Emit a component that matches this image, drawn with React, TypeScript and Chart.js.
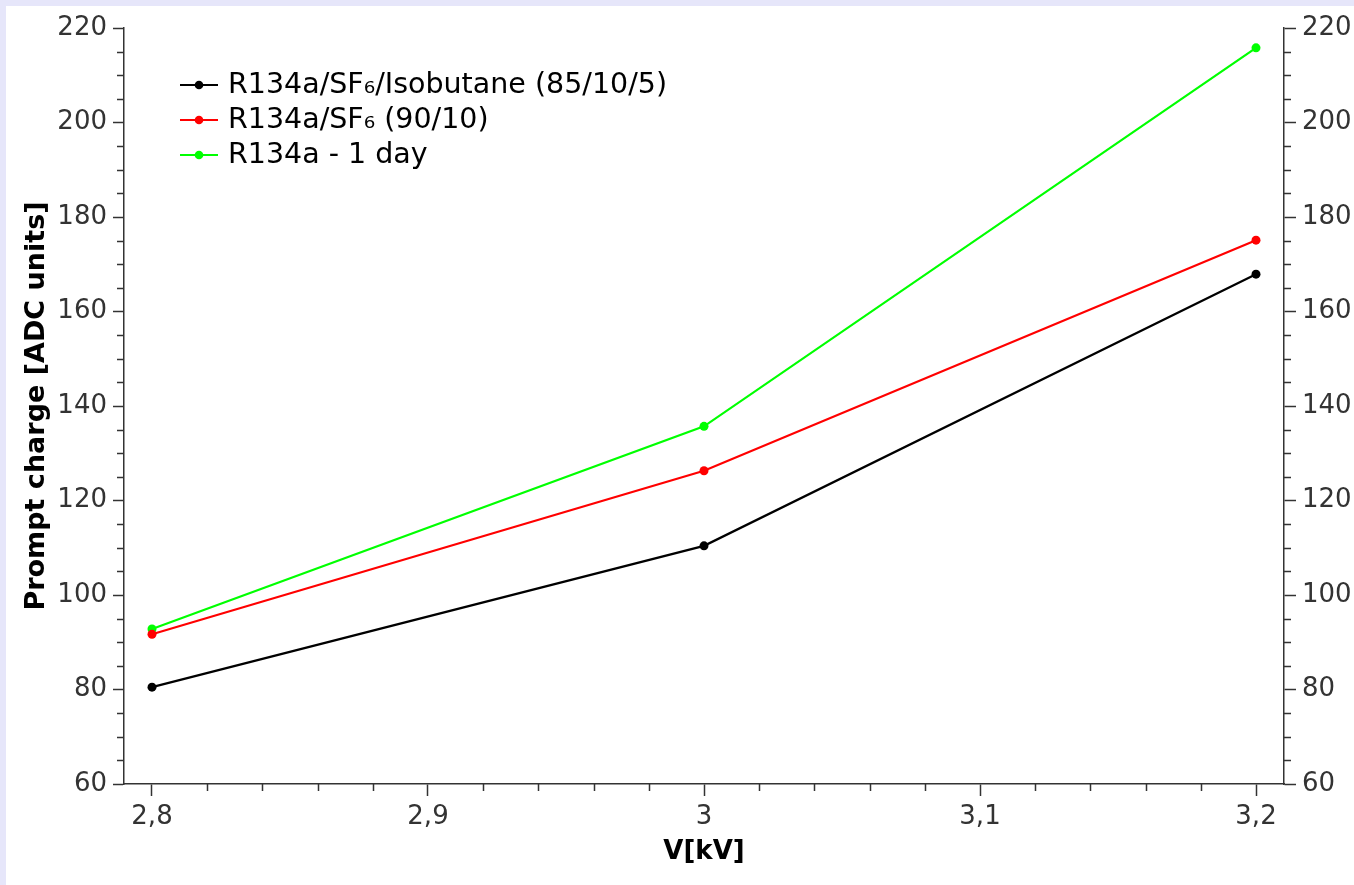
import React, { useEffect, useRef } from 'react';
import { Chart, registerables } from 'chart.js';

Chart.register(...registerables);

// ---- data ----
const voltages = [2.8, 3.0, 3.2];
const isobutaneMix = [80.5, 110.4, 167.9];
const sf6Mix = [91.7, 126.3, 175.1];
const r134aOneDay = [92.8, 135.7, 215.8];
const seriesNames = ['R134a/SF\u2086/Isobutane (85/10/5)', 'R134a/SF\u2086 (90/10)', 'R134a - 1 day'];
const seriesColors = ['#000000', '#ff0000', '#00ff00'];
const xTickValues = [2.8, 2.9, 3.0, 3.1, 3.2];
const xTickLabels = ['2,8', '2,9', '3', '3,1', '3,2'];
const xMinorTicks = [2.82, 2.84, 2.86, 2.88, 2.92, 2.94, 2.96, 2.98, 3.02, 3.04, 3.06, 3.08, 3.12, 3.14, 3.16, 3.18];
const yMin = 60;
const yMax = 220;
const yStep = 20;
const yMinorStep = 5;
const xTitle = 'V[kV]';
const yTitle = 'Prompt charge [ADC units]';

const FONT = "'DejaVu Sans', sans-serif";
const AXIS_COLOR = '#333333';

const minorTickPlugin = {
  id: 'minorTicks',
  afterDraw(chart: any) {
    const ctx = chart.ctx;
    const x = chart.scales.x;
    const y = chart.scales.y;
    const area = chart.chartArea;
    ctx.save();
    ctx.strokeStyle = AXIS_COLOR;
    ctx.lineWidth = 1.5;
    ctx.beginPath();
    xMinorTicks.forEach((v) => {
      const px = Math.round(x.getPixelForValue(v)) + 0.5;
      ctx.moveTo(px, area.bottom);
      ctx.lineTo(px, area.bottom + 7);
    });
    for (let v = yMin; v <= yMax; v += yMinorStep) {
      if (v % yStep === 0) continue;
      const py = Math.round(y.getPixelForValue(v)) + 0.5;
      ctx.moveTo(area.left - 7, py);
      ctx.lineTo(area.left, py);
      ctx.moveTo(area.right, py);
      ctx.lineTo(area.right + 7, py);
    }
    ctx.stroke();
    ctx.restore();
  },
};

const legendPlugin = {
  id: 'insideLegend',
  afterDraw(chart: any) {
    const ctx = chart.ctx;
    ctx.save();
    ctx.font = `28.5px ${FONT}`;
    ctx.textBaseline = 'middle';
    ctx.textAlign = 'left';
    chart.data.datasets.forEach((ds: any, i: number) => {
      const cy = 79 + i * 35;
      ctx.strokeStyle = ds.borderColor;
      ctx.lineWidth = 2.2;
      ctx.beginPath();
      ctx.moveTo(174, cy);
      ctx.lineTo(212, cy);
      ctx.stroke();
      ctx.fillStyle = ds.borderColor;
      ctx.beginPath();
      ctx.arc(193, cy, 4.3, 0, Math.PI * 2);
      ctx.fill();
      ctx.fillStyle = '#000000';
      ctx.fillText(ds.label, 222, cy + 1);
    });
    ctx.restore();
  },
};

export default function App() {
  const canvasRef = useRef<HTMLCanvasElement | null>(null);

  useEffect(() => {
    document.body.style.background = '#e6e6fa';
    const canvas = canvasRef.current;
    if (!canvas) return;
    const xPad = 28 / 2760;
    const makeDataset = (label: string, values: number[], color: string) => ({
      label,
      data: voltages.map((v, i) => ({ x: v, y: values[i] })),
      borderColor: color,
      backgroundColor: color,
      pointBackgroundColor: color,
      pointBorderColor: color,
      borderWidth: 2.2,
      pointRadius: 4.5,
      pointBorderWidth: 0,
      tension: 0,
    });
    const yTickCommon = {
      stepSize: yStep,
      color: AXIS_COLOR,
      font: { family: FONT, size: 26 },
    };
    const chart = new Chart(canvas, {
      type: 'line',
      data: {
        datasets: [
          makeDataset(seriesNames[0], isobutaneMix, seriesColors[0]),
          makeDataset(seriesNames[1], sf6Mix, seriesColors[1]),
          makeDataset(seriesNames[2], r134aOneDay, seriesColors[2]),
        ],
      },
      options: {
        responsive: false,
        animation: false,
        devicePixelRatio: 1,
        layout: { padding: { top: 22, left: 0, right: 0, bottom: 0 }, autoPadding: false },
        plugins: {
          legend: { display: false },
          tooltip: { enabled: false },
        },
        scales: {
          x: {
            type: 'linear',
            position: 'bottom',
            min: 2.8 - xPad,
            max: 3.2 + xPad,
            afterBuildTicks: (scale: any) => {
              scale.ticks = xTickValues.map((v) => ({ value: v }));
            },
            afterFit: (scale: any) => {
              scale.height = 101;
            },
            ticks: {
              color: AXIS_COLOR,
              font: { family: FONT, size: 26 },
              padding: 6,
              maxRotation: 0,
              autoSkip: false,
              callback: (value: any) => {
                const idx = xTickValues.findIndex((v) => Math.abs(v - value) < 1e-6);
                return idx >= 0 ? xTickLabels[idx] : '';
              },
            },
            grid: {
              drawOnChartArea: false,
              drawTicks: true,
              tickLength: 12,
              tickColor: AXIS_COLOR,
              tickWidth: 1.5,
            },
            border: { display: true, color: AXIS_COLOR, width: 1.5 },
            title: {
              display: true,
              text: xTitle,
              color: '#000000',
              font: { family: FONT, size: 26, weight: 'bold' },
              padding: { top: 0, bottom: 17 },
            },
          },
          y: {
            type: 'linear',
            position: 'left',
            min: yMin,
            max: yMax,
            afterFit: (scale: any) => {
              scale.width = 118;
            },
            ticks: { ...yTickCommon, padding: 6 },
            grid: {
              drawOnChartArea: false,
              drawTicks: true,
              tickLength: 11,
              tickColor: AXIS_COLOR,
              tickWidth: 1.5,
            },
            border: { display: true, color: AXIS_COLOR, width: 1.5 },
            title: {
              display: true,
              text: yTitle,
              color: '#000000',
              font: { family: FONT, size: 27, weight: 'bold' },
              padding: { top: 15, bottom: 0 },
            },
          },
          y2: {
            type: 'linear',
            position: 'right',
            min: yMin,
            max: yMax,
            afterFit: (scale: any) => {
              scale.width = 70;
            },
            ticks: { ...yTickCommon, padding: 6 },
            grid: {
              drawOnChartArea: false,
              drawTicks: true,
              tickLength: 12,
              tickColor: AXIS_COLOR,
              tickWidth: 1.5,
            },
            border: { display: true, color: AXIS_COLOR, width: 1.5 },
          },
        },
      } as any,
      plugins: [minorTickPlugin, legendPlugin],
    });
    return () => {
      chart.destroy();
    };
  }, []);

  return (
    <div
      style={{
        position: 'absolute',
        left: 6,
        top: 6,
        width: 1348,
        height: 879,
        background: '#ffffff',
      }}
    >
      <canvas ref={canvasRef} width={1348} height={879} style={{ display: 'block' }} />
    </div>
  );
}
